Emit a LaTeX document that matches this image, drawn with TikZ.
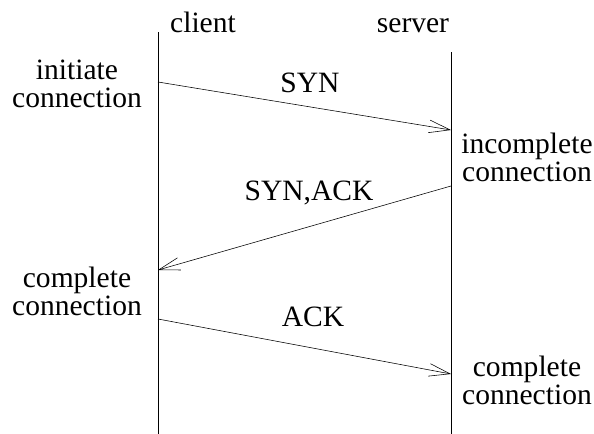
\documentclass[tikz,border=0pt]{standalone}
\usepackage{fontspec}
\setmainfont{Liberation Serif}
\usetikzlibrary{positioning,calc,arrows.meta}
\tikzset{font=\fontsize{21}{20}\selectfont}

\begin{document}
\begin{tikzpicture}[x=0.025cm, y=-0.025cm]
	\useasboundingbox (0,0) rectangle (594,434);
	\begin{scope}
		\tikzstyle{every node}=[align=center, inner sep=1pt]
		\tikzstyle{msg}=[-{Straight Barb[length=15pt,width=9pt]}, thin]
		% time lines
		\coordinate (c0) at (158,32);
		\coordinate (c1) at (158,434);
		\coordinate (s0) at (451,52);
		\coordinate (s1) at (451,434);
		\draw (c0) -- (c1);
		\draw (s0) -- (s1);
		\node[anchor=base] (client) at (203,33) {client};
		\node[anchor=base] (server) at (413,33) {server};

		% message end points
		\coordinate (a1) at (158,82);
		\coordinate (b1) at (451,130);
		\coordinate (b2) at (451,186);
		\coordinate (a2) at (158,270);
		\coordinate (a3) at (158,319);
		\coordinate (b3) at (451,374);

		\draw[msg] (a1) -- (b1);
		\draw[msg] (b2) -- (a2);
		\draw[msg] (a3) -- (b3);

		\node (syn) at (310,83) {SYN};
		\node (synack) at (309,193) {SYN,ACK};
		\node (ack) at (313,317) {ACK};

		\node (init) at (77,84) {initiate\\connection};
		\node (incomp) at (527,157) {incomplete\\connection};
		\node (compc) at (77,291) {complete\\connection};
		\node (comps) at (527,380) {complete\\connection};
	\end{scope}
\end{tikzpicture}
\end{document}
